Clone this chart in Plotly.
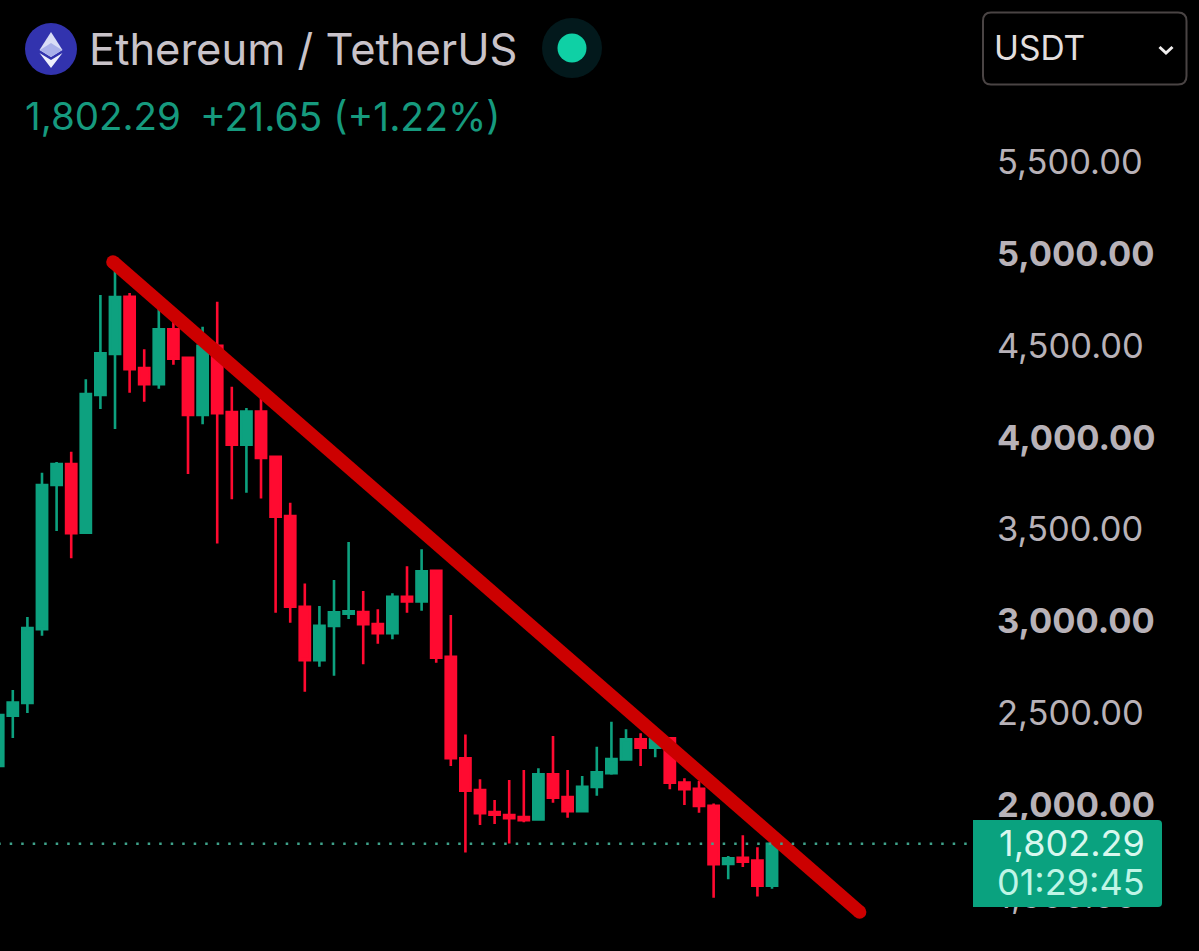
import plotly.graph_objects as go

# ETH/USDT monthly candles, oldest first
opens = [2226,2500,2569,2972,3757,3872,3497,4248,4471,4783,4395,4306,4606,4451,4139,4516,4155,3977,4157,3911,3588,3094,2802,2989,3056,3065,2999,2950,3148,3123,3289,2821,2268,2095,1975,1959,1948,1935,2181,2057,1980,2111,2186,2262,2371,2326,2377,2135,2102,2009,1692,1726,1710,1574]
highs = [2520,2640,3038,3824,3883,3939,4333,4793,4956,4804,4497,4769,4674,4456,4620,4756,4293,4177,4248,3915,3661,3221,3098,3240,3447,3180,3080,3167,3314,3407,3289,3049,2398,2153,2041,2150,2204,2213,2389,2204,2171,2331,2467,2426,2404,2426,2378,2159,2144,2022,1735,1848,1783,1806]
lows = [2226,2378,2515,2936,3506,3358,3496,4171,4062,4260,4211,4282,4413,3817,4088,3439,3679,3715,3683,3061,3007,2631,2767,2718,3027,2780,2892,2916,3061,3072,2789,2226,1755,1904,1910,1804,1919,1935,2026,1944,1980,2064,2178,2262,2226,2273,2099,2013,1971,1508,1608,1675,1514,1557]
closes = [2504,2571,2978,3757,3872,3494,4253,4475,4782,4389,4306,4606,4446,4139,4516,4148,3977,4157,3904,3584,3094,2803,2990,3063,3069,2998,2950,3148,3123,3287,2816,2268,2091,1968,1960,1941,1930,2181,2053,1980,2113,2191,2264,2371,2326,2373,2135,2100,2008,1690,1723,1704,1574,1802.29]
periods = list(range(len(closes)))

last_price = 1802.29
trend_x = [7.86, 59.0]
trend_y = [4973, 1430]
tick_values = [5500, 5000, 4500, 4000, 3500, 3000, 2500, 2000, 1500]
tick_labels = ["5,500.00", "<b>5,000.00</b>", "4,500.00", "<b>4,000.00</b>", "3,500.00",
               "<b>3,000.00</b>", "2,500.00", "<b>2,000.00</b>", "1,500.00"]

WIDTH, HEIGHT = 1199, 951
PLOT_RIGHT = 990
UP, DOWN = "#0DA17F", "#FF0A30"
FONT = "Inter"


def px(x):
    return x / PLOT_RIGHT


def py(y):
    return 1 - y / HEIGHT


def path_of(points, close=True):
    body = " L ".join(f"{px(a):.5f} {py(b):.5f}" for a, b in points)
    return "M " + body + (" Z" if close else "")


def label(text, x, y, size, color, anchor="left", weight=400):
    return dict(text=text, xref="paper", yref="paper", x=px(x), y=py(y), showarrow=False,
                xanchor=anchor, yanchor="middle", align=anchor,
                font=dict(family=FONT, size=size, color=color, weight=weight))


def disc(cx, cy, r, color):
    return dict(type="circle", xref="paper", yref="paper", x0=px(cx - r), x1=px(cx + r),
                y0=py(cy + r), y1=py(cy - r), fillcolor=color, line_width=0)


def poly(points, color):
    return dict(type="path", xref="paper", yref="paper", path=path_of(points),
                fillcolor=color, line_width=0)


fig = go.Figure()

# Descending trendline with rounded ends, under the candles
fig.add_trace(go.Scatter(x=trend_x, y=trend_y, mode="lines+markers",
                         line=dict(color="#CC0000", width=13.5),
                         marker=dict(color="#CC0000", size=13.5),
                         hoverinfo="skip", showlegend=False))

# Dotted marker of the last price
fig.add_trace(go.Scatter(x=[0, 68], y=[last_price, last_price], mode="lines",
                         line=dict(color="#3FA38B", width=2.5, dash="2.5px,9px"),
                         hoverinfo="skip", showlegend=False))

fig.add_trace(go.Candlestick(
    x=periods, open=opens, high=highs, low=lows, close=closes,
    whiskerwidth=0, showlegend=False,
    increasing=dict(line=dict(color=UP, width=2.6), fillcolor=UP),
    decreasing=dict(line=dict(color=DOWN, width=2.6), fillcolor=DOWN),
))

shapes = [
    # Coin badge
    disc(51, 49, 26, "#3233AE"),
    poly([(51, 32), (62.5, 50), (51, 57), (39.5, 50)], "#D9DDF6"),
    poly([(51, 43), (62, 50), (51, 57), (40, 50)], "#A9B0EA"),
    poly([(39.5, 53), (51, 60), (62.5, 53), (51, 68)], "#EEF0FC"),
    # Market status dot
    disc(572, 48, 30, "#03191C"),
    disc(572, 48, 14.5, "#0FD0A5"),
    # Currency selector
    dict(type="path", xref="paper", yref="paper",
         path=(f"M {px(991)} {py(12.5)} L {px(1178)} {py(12.5)} Q {px(1186.5)} {py(12.5)} {px(1186.5)} {py(21)} "
               f"L {px(1186.5)} {py(76)} Q {px(1186.5)} {py(84.5)} {px(1178)} {py(84.5)} "
               f"L {px(991)} {py(84.5)} Q {px(983)} {py(84.5)} {px(983)} {py(76)} "
               f"L {px(983)} {py(21)} Q {px(983)} {py(12.5)} {px(991)} {py(12.5)} Z"),
         line=dict(color="#4A4444", width=2), fillcolor="rgba(0,0,0,0)"),
    dict(type="path", xref="paper", yref="paper",
         path=path_of([(1159.5, 47), (1166, 53), (1172.5, 47)], close=False),
         line=dict(color="#F0EEEE", width=3), fillcolor="rgba(0,0,0,0)"),
    # Last-price tag
    dict(type="path", xref="paper", yref="paper",
         path=(f"M {px(973)} {py(820)} L {px(1158)} {py(820)} Q {px(1162)} {py(820)} {px(1162)} {py(824)} "
               f"L {px(1162)} {py(903)} Q {px(1162)} {py(907)} {px(1158)} {py(907)} L {px(973)} {py(907)} Z"),
         fillcolor="#0AA27F", line_width=0),
]

annotations = [
    label("Ethereum / TetherUS", 87, 49, 43.5, "#C9C3C9"),
    label("1,802.29", 23, 116, 38.5, "#169A7E"),
    label("+21.65 (+1.22%)", 198, 116, 39, "#169A7E"),
    label("USDT", 992, 48, 33.5, "#E2DEDE"),
    label("1,802.29", 1147, 843, 36, "#D8F7EE", anchor="right"),
    label("01:29:45", 1147, 882, 36, "#BFF5E6", anchor="right"),
]

fig.update_layout(
    width=WIDTH, height=HEIGHT, autosize=False,
    margin=dict(l=0, r=WIDTH - PLOT_RIGHT, t=0, b=0, pad=0),
    paper_bgcolor="#000000", plot_bgcolor="#000000",
    boxgap=0.3, boxgroupgap=0,
    shapes=shapes, annotations=annotations,
    hovermode=False,
    xaxis=dict(range=[0.123, 67.93], showgrid=False, zeroline=False, showline=False,
               showticklabels=False, ticks="", rangeslider=dict(visible=False), fixedrange=True),
    yaxis=dict(range=[1217.55, 6400.5], side="right", showgrid=False, zeroline=False, showline=False,
               tickmode="array", tickvals=tick_values, ticktext=tick_labels, ticks="",
               ticklabelshift=-3, ticklabelstandoff=6,
               tickfont=dict(family=FONT, size=34.5, color="#B8B2B8"), fixedrange=True),
)

fig.write_html("out.html", config=dict(displayModeBar=False))
